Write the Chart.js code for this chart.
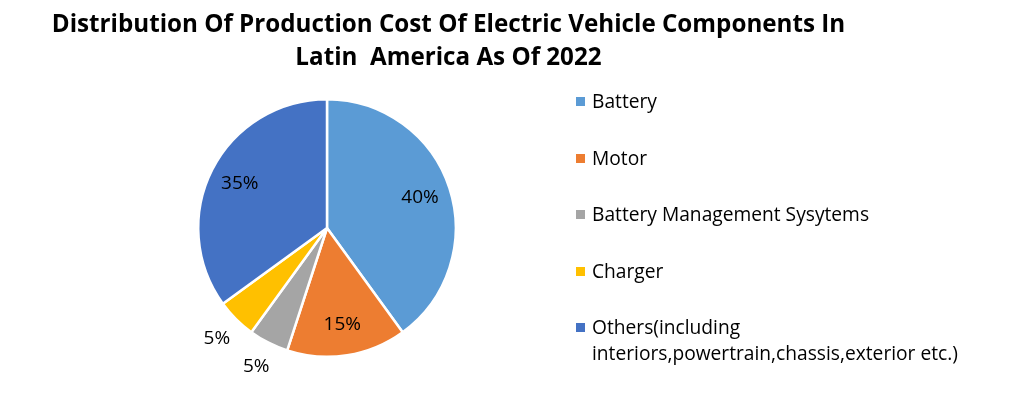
<!DOCTYPE html>
<html>
<head>
<meta charset="utf-8">
<script src="https://cdn.jsdelivr.net/npm/chart.js@4/dist/chart.umd.min.js"></script>
<style>
  html, body { margin: 0; padding: 0; background: #fff; }
  #wrap { position: relative; width: 1017px; height: 399px; overflow: hidden; }
  #title {
    position: absolute; left: 0; top: 6px; width: 897px;
    text-align: center; font-family: "Open Sans", sans-serif; font-weight: 700;
    font-size: 24.2px; line-height: 33px; color: #000; white-space: nowrap;
  }
  #chart { position: absolute; left: 0; top: 0; }
  #legend {
    position: absolute; left: 576px; top: 88px; margin: 0; padding: 0; list-style: none;
    font-family: "Open Sans", sans-serif; font-size: 19.2px; color: #000; white-space: nowrap;
  }
  #legend li { position: relative; padding-left: 16px; height: 56.5px; line-height: 26px; }
  #legend li span.box { position: absolute; left: 0; top: 9px; width: 9px; height: 9px; }
</style>
</head>
<body>
<div id="wrap">
  <canvas id="chart" width="1017" height="399"></canvas>
  <div id="title">Distribution Of Production Cost Of Electric Vehicle Components In<br>Latin&nbsp; America As Of 2022</div>
  <ul id="legend"></ul>
</div>
<script>
(function () {
  'use strict'

  var categories = ['Battery', 'Motor', 'Battery Management Sysytems', 'Charger',
    'Others(including interiors,powertrain,chassis,exterior etc.)']
  var legendLines = [['Battery'], ['Motor'], ['Battery Management Sysytems'], ['Charger'],
    ['Others(including', 'interiors,powertrain,chassis,exterior etc.)']]
  var shares = [40, 15, 5, 5, 35]
  var colors = ['#5B9BD5', '#ED7D31', '#A5A5A5', '#FFC000', '#4472C4']

  /** percentage labels: inside for big slices, outside for small ones */
  var sliceLabels = {
    id: 'sliceLabels',
    afterDatasetsDraw: function (chart) {
      var ctx = chart.ctx
      var meta = chart.getDatasetMeta(0)
      ctx.save()
      ctx.font = '19px "Open Sans", sans-serif'
      ctx.fillStyle = '#000'
      ctx.textAlign = 'center'
      ctx.textBaseline = 'middle'
      meta.data.forEach(function (arc, i) {
        var v = chart.data.datasets[0].data[i]
        var mid = (arc.startAngle + arc.endAngle) / 2
        var r = v >= 10 ? arc.outerRadius * 0.76 : arc.outerRadius + 27
        ctx.fillText(v + '%', arc.x + Math.cos(mid) * r, arc.y + Math.sin(mid) * r)
      })
      ctx.restore()
    }
  }

  var ctx = document.getElementById('chart')

  var myChart = new Chart(ctx, {
    type: 'pie',
    data: {
      labels: categories,
      datasets: [{
        data: shares,
        backgroundColor: colors,
        borderColor: '#fff',
        borderWidth: 2.5
      }]
    },
    options: {
      responsive: false,
      animation: false,
      layout: { padding: { left: 197, right: 560, top: 98, bottom: 41 } },
      plugins: {
        legend: { display: false },
        title: { display: false },
        tooltip: { enabled: false }
      }
    },
    plugins: [sliceLabels]
  })

  // html legend from the chart's own data
  var ul = document.getElementById('legend')
  myChart.data.labels.forEach(function (lab, i) {
    var li = document.createElement('li')
    var box = document.createElement('span')
    box.className = 'box'
    box.style.background = myChart.data.datasets[0].backgroundColor[i]
    li.appendChild(box)
    li.appendChild(document.createTextNode(legendLines[i][0]))
    for (var k = 1; k < legendLines[i].length; k++) {
      li.appendChild(document.createElement('br'))
      li.appendChild(document.createTextNode(legendLines[i][k]))
    }
    ul.appendChild(li)
  })
})()
</script>
</body>
</html>
